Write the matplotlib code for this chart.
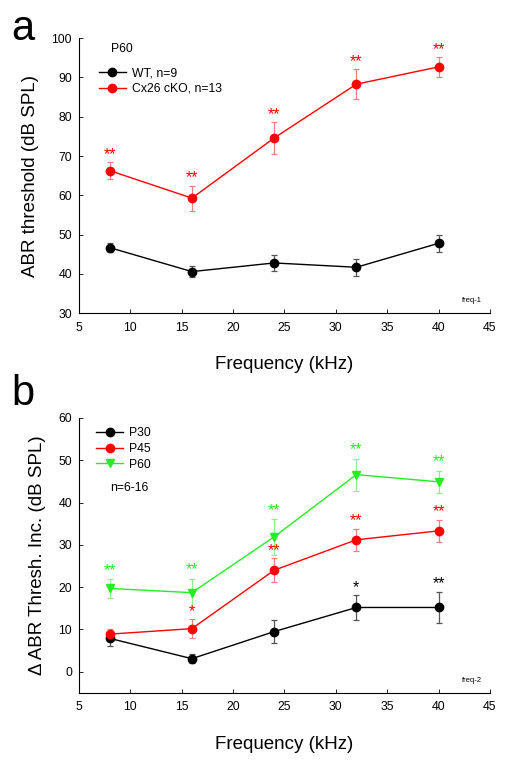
import matplotlib
matplotlib.use("Agg")
import matplotlib.pyplot as plt
from matplotlib.lines import Line2D
import numpy as np

plt.rcParams['font.family'] = ['Liberation Sans', 'DejaVu Sans']

freq = [8, 16, 24, 32, 40]

# panel a
wt_mean = [46.7, 40.6, 42.8, 41.7, 47.8]
wt_err = [1.2, 1.3, 2.0, 2.1, 2.1]
ko_mean = [66.3, 59.3, 74.6, 88.3, 92.7]
ko_err = [2.2, 3.2, 4.1, 3.8, 2.5]
ko_stars = ['**', '**', '**', '**', '**']

# panel b
p30_mean = [7.9, 3.1, 9.5, 15.2, 15.2]
p30_err = [1.8, 1.0, 2.8, 2.9, 3.7]
p45_mean = [8.9, 10.2, 24.0, 31.2, 33.3]
p45_err = [1.2, 2.2, 2.8, 2.6, 2.6]
p60_mean = [19.7, 18.7, 31.9, 46.6, 44.9]
p60_err = [2.2, 3.3, 4.2, 3.8, 2.6]
p30_stars = ['', '', '', '*', '**']
p45_stars = ['', '*', '**', '**', '**']
p60_stars = ['**', '**', '**', '**', '**']

RED = '#ff0000'
GREEN = '#22ee22'
FS = 8.8

fig = plt.figure(figsize=(5.12, 7.64), dpi=100)
ax1 = fig.add_axes([0.154, 0.590, 0.803, 0.360])
ax2 = fig.add_axes([0.154, 0.093, 0.803, 0.360])


def series(ax, x, y, e, color, marker, ecolor):
    ax.errorbar(x, y, yerr=e, color=color, marker=marker, ms=6, lw=1,
                ecolor=ecolor, elinewidth=0.9, capsize=2.5, capthick=0.9)
    return Line2D([], [], color=color, marker=marker, ms=6, lw=1)


def stars(ax, x, y, e, labels, color, off):
    for xi, yi, ei, s in zip(x, y, e, labels):
        if s:
            ax.text(xi, yi + ei + off, s, color=color, ha='center',
                    va='center', fontsize=11.5)


def style(ax, ylim, yticks, ylabel, tag):
    ax.set_xlim(5, 45)
    ax.set_ylim(*ylim)
    ax.set_xticks(range(5, 50, 5))
    ax.set_yticks(yticks)
    for sp in ['top', 'right']:
        ax.spines[sp].set_visible(False)
    ax.tick_params(direction='in', length=3, labelsize=FS, width=0.6)
    ax.tick_params(axis='x', pad=6)
    ax.tick_params(axis='y', pad=5)
    ax.set_ylabel(ylabel, fontsize=13.5, labelpad=9)
    ax.set_xlabel('Frequency (kHz)', fontsize=13.5, labelpad=16)
    ax.text(0.956, 0.04, tag, transform=ax.transAxes, fontsize=5.5,
            ha='center')


h_wt = series(ax1, freq, wt_mean, wt_err, 'black', 'o', '#555555')
h_ko = series(ax1, freq, ko_mean, ko_err, RED, 'o', '#f08080')
stars(ax1, freq, ko_mean, ko_err, ko_stars, RED, 1.9)
style(ax1, (30, 100), range(30, 101, 10), 'ABR threshold (dB SPL)', 'freq-1')
ax1.text(0.078, 0.96, 'P60', transform=ax1.transAxes, fontsize=FS,
         va='center')
ax1.legend([h_wt, h_ko], ['WT, n=9', 'Cx26 cKO, n=13'], loc='upper left',
           bbox_to_anchor=(0.037, 0.913), frameon=False, fontsize=FS,
           handlelength=2.2, handletextpad=0.5, labelspacing=0.32,
           borderaxespad=0)

h30 = series(ax2, freq, p30_mean, p30_err, 'black', 'o', '#555555')
h45 = series(ax2, freq, p45_mean, p45_err, RED, 'o', '#f08080')
h60 = series(ax2, freq, p60_mean, p60_err, GREEN, 'v', '#90ee90')
stars(ax2, freq, p30_mean, p30_err, p30_stars, 'black', 1.9)
stars(ax2, freq, p45_mean, p45_err, p45_stars, RED, 1.9)
stars(ax2, freq, p60_mean, p60_err, p60_stars, GREEN, 2.1)
style(ax2, (-5, 60), range(0, 61, 10), '\u0394 ABR Thresh. Inc. (dB SPL)',
      'freq-2')
ax2.text(0.075, 0.745, 'n=6-16', transform=ax2.transAxes, fontsize=FS,
         va='center')
ax2.legend([h30, h45, h60], ['P30', 'P45', 'P60'], loc='upper left',
           bbox_to_anchor=(0.03, 0.985), frameon=False, fontsize=FS,
           handlelength=2.2, handletextpad=0.5, labelspacing=0.32,
           borderaxespad=0)

fig.text(0.022, 0.962, 'a', fontsize=30, va='center')
fig.text(0.022, 0.484, 'b', fontsize=30, va='center')

fig.savefig('out.png', dpi=100)
